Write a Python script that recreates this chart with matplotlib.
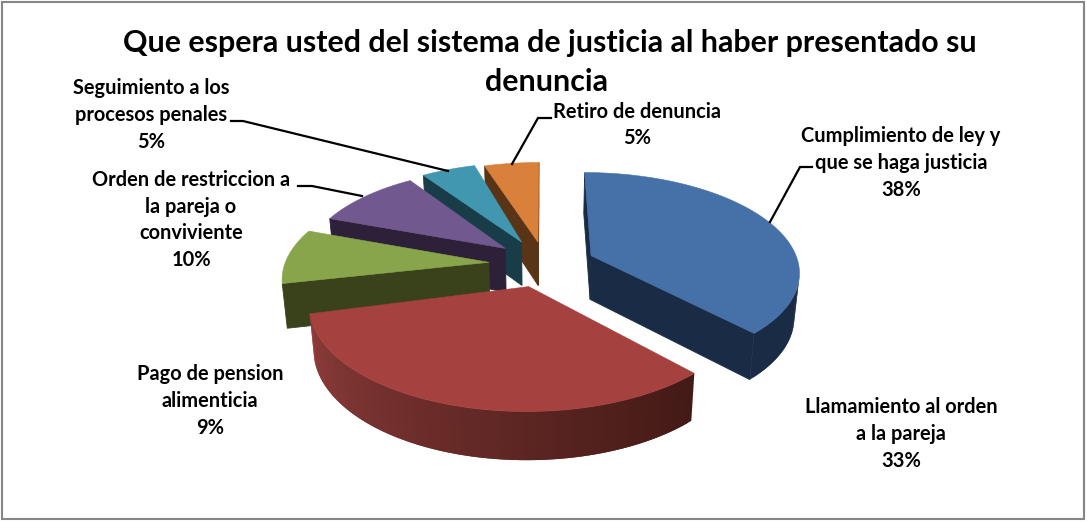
import numpy as np
import matplotlib
matplotlib.use('Agg')
import matplotlib.pyplot as plt
from matplotlib.colors import to_rgb
from matplotlib.patches import Polygon, Rectangle

plt.rcParams['font.family'] = ['Lato', 'DejaVu Sans']

# data
title_lines = ['Que espera usted del sistema de justicia al haber presentado su', 'denuncia']
categories = ['Cumplimiento de ley y\nque se haga justicia', 'Llamamiento al orden\na la pareja',
              'Pago de pension\nalimenticia', 'Orden de restriccion a\nla pareja o\nconviviente',
              'Seguimiento a los\nprocesos penales', 'Retiro de denuncia']
values = [38, 33, 9, 10, 5, 5]

# styles, one per slice
top_colors = ['#4571A8', '#A5413F', '#88A54B', '#71588F', '#4197AF', '#D9803A']
side_light = ['#1A2C45', '#8F3D3B', '#3A421C', '#2D2039', '#183C48', '#5A3417']
side_dark = ['#1A2C45', '#431A16', '#3A421C', '#2D2039', '#183C48', '#5A3417']
explode = [0.26, 0.22, 0.22, 0.22, 0.22, 0.22]
radius = [0.99, 1, 0.97, 0.96, 0.97, 0.98]
spin = [0, 0, 2, 2, 1.5, 0]
nudge = [(1, 0), (2, 0), (-5, -2), (2, -4), (2, -4), (5, -2)]
label_pos = [(901, 163), (901, 434), (210, 401), (191, 220), (151, 115), (637, 125)]
leaders = [[(770, 222), (800, 167), (812, 167)],
           [(448, 171), (243, 121), (231, 121)],
           [(362, 196), (312, 186), (298, 186)],
           [(512, 164), (538, 118), (551, 118)]]
draw_order = [5, 4, 3, 2, 1, 0]

# projection of the pie plane to pixels
cx, cy = 540, 265
rx, ry = 210, 99
persp = 0.15
depth = 44


def project(x, y, low=False, shift=(0, 0)):
    s = 1 / (1 + persp * y)
    px = x * rx * s
    py = -y * ry * s
    if low:
        return cx + px * 0.98 + shift[0], cy + py + depth * np.sqrt(s) + shift[1]
    return cx + px + shift[0], cy + py + shift[1]


def signed_area(pts):
    a = np.array(pts)
    return np.sum(a[:, 0] * np.roll(a[:, 1], -1) - np.roll(a[:, 0], -1) * a[:, 1])


def mix(c1, c2, t):
    return tuple((1 - t) * np.array(to_rgb(c1)) + t * np.array(to_rgb(c2)))


fig = plt.figure(figsize=(10.87, 5.22), dpi=100)
ax = fig.add_axes([0, 0, 1, 1])
ax.set_xlim(0, 1087)
ax.set_ylim(522, 0)
ax.axis('off')
ax.add_patch(Rectangle((1.5, 1.5), 1082.5, 517.5, fc='white', ec='#868686', lw=1.5))

fracs = np.array(values) / sum(values)
starts = np.concatenate([[0], np.cumsum(fracs)[:-1]]) * 2 * np.pi
ends = np.cumsum(fracs) * 2 * np.pi

for i in draw_order:
    mid = (starts[i] + ends[i]) / 2
    ox, oy = explode[i] * np.sin(mid), explode[i] * np.cos(mid)
    ang = np.linspace(starts[i], ends[i], max(int(values[i] * 3), 12)) + np.radians(spin[i])
    xs = ox + radius[i] * np.sin(ang)
    ys = oy + radius[i] * np.cos(ang)
    sh = nudge[i]
    z = 2 + 0.1 * (5 - i)

    # cut faces, drawn only when they look at the viewer
    for a, b in [((ox, oy), (xs[0], ys[0])), ((xs[-1], ys[-1]), (ox, oy))]:
        quad = [project(*a, shift=sh), project(*b, shift=sh),
                project(*b, low=True, shift=sh), project(*a, low=True, shift=sh)]
        if signed_area(quad) < 0:
            ax.add_patch(Polygon(quad, fc=side_dark[i], ec=side_dark[i], lw=0.6, zorder=z))

    # outer wall in strips that overlap the next one, so no seams show
    n = len(ang) - 1
    order = range(n) if project(xs[0], ys[0])[0] > project(xs[-1], ys[-1])[0] else range(n - 1, -1, -1)
    for k in order:
        j0 = k if order.step > 0 else max(k - 1, 0)
        j1 = min(k + 2, n) if order.step > 0 else k + 1
        quad = [project(xs[k], ys[k], shift=sh), project(xs[k + 1], ys[k + 1], shift=sh),
                project(xs[k + 1], ys[k + 1], low=True, shift=sh), project(xs[k], ys[k], low=True, shift=sh)]
        if signed_area(quad) < 0:
            wall = [project(xs[j0], ys[j0], shift=sh), project(xs[j1], ys[j1], shift=sh),
                    project(xs[j1], ys[j1], low=True, shift=sh), project(xs[j0], ys[j0], low=True, shift=sh)]
            col = mix(side_dark[i], side_light[i], ((k + 0.5) / n) ** 1.1)
            ax.add_patch(Polygon(wall, fc=col, ec='none', zorder=z))

    top = [project(ox, oy, shift=sh)] + [project(x, y, shift=sh) for x, y in zip(xs, ys)]
    ax.add_patch(Polygon(top, fc=top_colors[i], ec=top_colors[i], lw=0.4, zorder=z + 0.05))

for line in leaders:
    ax.plot([p[0] for p in line], [p[1] for p in line], color='black', lw=1.6, zorder=3, solid_joinstyle='miter')

for name, val, pos in zip(categories, values, label_pos):
    ax.text(pos[0], pos[1], f'{name}\n{val}%', ha='center', va='center', fontsize=14.4,
            fontweight='bold', linespacing=1.43, color='black', zorder=4)

for line, x, y in zip(title_lines, [550, 546], [43, 82]):
    ax.text(x, y, line, ha='center', va='center', fontsize=21.9, fontweight='bold', color='black', zorder=4)

fig.savefig('out.png', dpi=100)
